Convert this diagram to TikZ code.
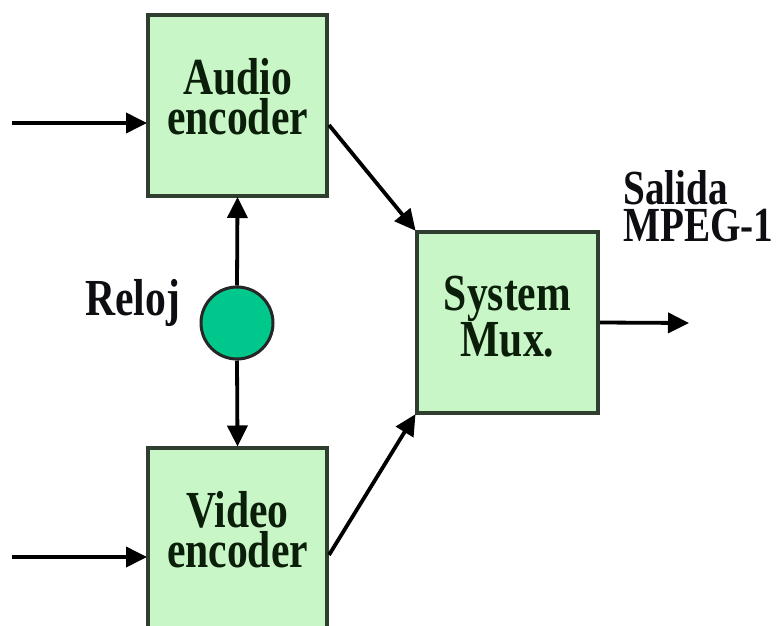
\documentclass[tikz,border=0pt]{standalone}
\usepackage{fontspec}
\setmainfont{Liberation Serif}[FakeStretch=0.86]
\newfontfamily\heavyserif{Liberation Serif Bold}[FakeStretch=0.80]
\usetikzlibrary{arrows.meta}

\definecolor{boxfill}{RGB}{200,246,198}
\definecolor{boxline}{RGB}{48,62,48}
\definecolor{clockfill}{RGB}{0,200,140}
\definecolor{boxtext}{RGB}{10,30,10}
\definecolor{inktext}{RGB}{14,14,18}

\tikzset{
  blockbox/.style={draw=boxline, line width=4pt, fill=boxfill, text=boxtext,
    minimum width=179pt, minimum height=181pt, inner sep=0pt, align=center,
    font=\heavyserif\fontsize{52}{40}\selectfont},
  clocknode/.style={circle, draw=black!85, line width=3pt, fill=clockfill,
    minimum size=72pt, inner sep=0pt},
  plainlabel/.style={text=inktext, inner sep=0pt},
  flow/.style={draw=black, line width=3.8pt,
    -{Triangle[length=21pt,width=20pt]}, shorten >=-1pt},
}

\begin{document}
\begin{tikzpicture}[x=1pt, y=-1pt]
  \useasboundingbox (0,0) rectangle (784,626);
  \clip (0,0) rectangle (784,626);
  \fill[white] (0,0) rectangle (784,626);

  % blocks
  \node[blockbox, text depth=19pt] (audio) at (237.5,105.5) {Audio\\encoder};
  \node[blockbox, text depth=17pt] (video) at (237.5,538) {Video\\encoder};
  \node[blockbox, minimum width=181pt, text depth=12pt] (mux) at (507.5,322.5) {System\\Mux.};

  % clock
  \node[clocknode] (clock) at (237,323) {};
  \node[plainlabel, anchor=base west, font=\heavyserif\fontsize{52}{40}\selectfont] (reloj) at (85,315) {Reloj};

  % output label
  \node[plainlabel, anchor=south west, align=left, text depth=0pt,
        font=\heavyserif\fontsize{49}{37}\selectfont] (salida) at (623,242) {Salida\\MPEG-1};

  % free ends of the input and output lines
  \coordinate (ain) at (12,123);
  \coordinate (vin) at (12,557);
  \coordinate (out) at (688,323);

  % connectors
  \draw[flow] (ain) -- (audio.west |- ain);
  \draw[flow] (vin) -- (video.west |- vin);
  \draw[flow] (clock.north) -- (audio.south);
  \draw[flow] (clock.south) -- (video.north);
  \draw[flow] (audio.east |- 0,125) -- (mux.north west);
  \draw[flow] (video.east |- 0,555) -- (mux.south west);
  \draw[flow] (mux.east) -- (out);
\end{tikzpicture}
\end{document}
